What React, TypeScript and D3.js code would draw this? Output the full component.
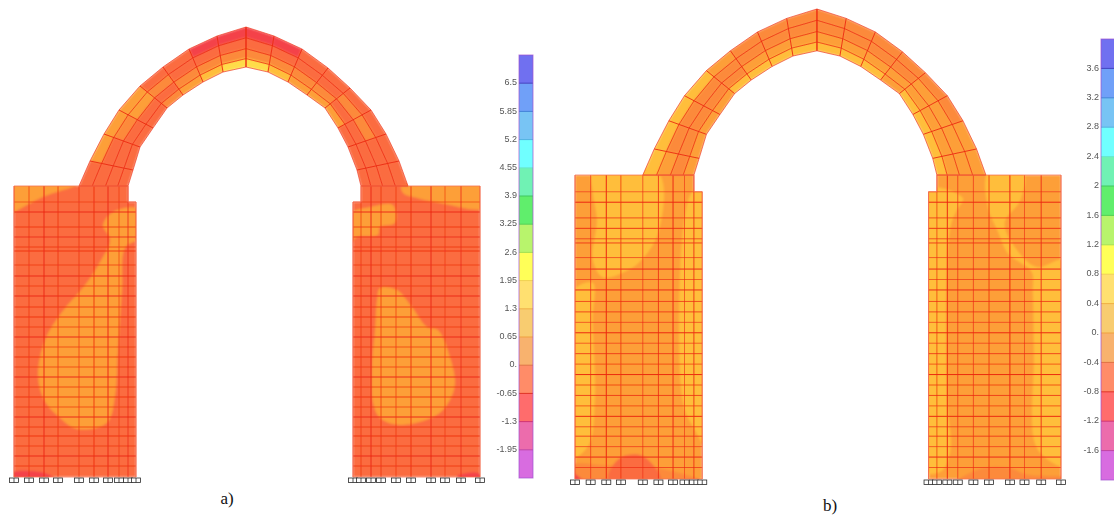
import React from "react";
import * as d3 from "d3";

type P = [number, number];

// Model geometry (drawing units of the structure)
const outerLeft: P[] = [[246, 27], [217, 36], [189, 49], [163, 67], [140, 86], [119, 110], [104, 134], [90, 161], [79, 186]];
const innerLeft: P[] = [[246, 67], [223, 72], [203, 82], [183, 95], [167, 108], [153, 128], [140, 147], [133, 170], [128, 186]];
const outerRight: P[] = [[246, 27], [274, 36], [302, 49], [328, 68], [350, 88], [371, 110], [386, 134], [399, 161], [408, 186]];
const innerRight: P[] = [[246, 67], [268, 72], [288, 82], [307, 95], [325, 108], [338, 128], [348, 147], [357, 170], [361, 186]];
const ringFractions = [0, 0.27, 0.54, 0.79, 1];

const leftPier: P[] = [[14, 186], [128, 186], [128, 202], [136, 202], [136, 477], [14, 477]];
const rightPier: P[] = [[353, 202], [361, 202], [361, 186], [480, 186], [480, 477], [353, 477]];

const leftColumns = [14, 29, 44, 58, 79, 94, 108, 119, 128, 136];
const rightColumns = [353, 361, 371, 381, 396, 411, 431, 445, 461, 480];
const columnWeights = [0.6, 0.65, 1, 0.7, 0.65, 0.8, 1, 0.6, 0.85, 0.5];
const rows = [202, 212, 227, 237, 247, 251, 265, 276, 286, 296, 307, 317, 327, 337, 347, 357, 367, 377, 387, 397, 407, 417, 427, 436, 446, 456, 466];
const rowWeights = [0.6, 1, 0.75, 0.9, 0.7, 0.8, 0.65, 1, 0.65, 1, 0.75, 0.8, 0.65, 1, 0.65, 0.8, 0.65, 1, 0.7, 0.8, 0.65, 1, 0.7, 0.8, 0.65, 1, 0.7];

// Contour levels, from the highest compression (0) to the lowest (5)
const levelColours = ["#F4434A", "#FB6C40", "#FC8A3A", "#FD9F38", "#FFBE3A", "#FFDC48"];

// Arch cells: segment (crown to springing) x ring (outside to inside)
const archALeft = [[0, 1, 2, 5], [0, 1, 2, 4], [1, 1, 2, 3], [1, 2, 1, 2], [3, 3, 1, 1], [3, 2, 1, 1], [3, 1, 1, 1], [1, 1, 1, 1]];
const archARight = [[0, 1, 2, 5], [0, 1, 2, 4], [1, 1, 2, 3], [1, 1, 2, 3], [1, 2, 1, 3], [1, 2, 1, 1], [1, 1, 1, 1], [1, 1, 1, 1]];
const archBLeft = [[2, 2, 3, 4], [2, 2, 3, 4], [2, 2, 3, 4], [3, 2, 2, 4], [4, 2, 2, 3], [4, 2, 2, 3], [4, 2, 2, 3], [4, 3, 2, 3]];
const archBRight = [[2, 2, 3, 4], [2, 2, 3, 4], [2, 2, 3, 4], [2, 2, 3, 3], [2, 3, 3, 4], [2, 3, 3, 4], [3, 3, 3, 4], [3, 3, 3, 4]];

type Blob = { level: number; pts: P[] };

const contoursA: Blob[] = [
  { level: 3, pts: [[10, 182], [78, 184], [43, 197], [18, 210], [10, 214]] },
  { level: 3, pts: [[113, 212], [138, 209], [138, 238], [125, 248], [122, 290], [118, 350], [115, 397], [107, 423], [77, 429], [60, 418], [44, 400], [38, 375], [45, 340], [62, 312], [85, 285], [100, 262], [110, 240], [103, 225]] },
  { level: 3, pts: [[350, 214], [370, 207], [393, 205], [395, 223], [380, 227], [378, 235], [357, 237], [350, 243]] },
  { level: 3, pts: [[402, 184], [484, 184], [484, 208], [440, 203], [417, 198], [403, 193]] },
  { level: 3, pts: [[380, 288], [397, 290], [412, 307], [427, 327], [438, 330], [450, 357], [455, 383], [450, 400], [437, 415], [400, 425], [380, 418], [373, 403], [372, 363], [375, 330], [377, 300]] },
  { level: 0, pts: [[10, 473], [45, 473], [55, 480], [10, 480]] },
  { level: 0, pts: [[457, 476], [478, 473], [483, 478], [460, 479]] },
];

const baseLevelA = 1;
const baseLevelB = 3;

const contoursB: Blob[] = [
  { level: 4, pts: [[31, 184], [94, 184], [94, 241], [78, 267], [65, 277], [41, 284], [31, 267], [35, 229], [31, 203]] },
  { level: 4, pts: [[10, 299], [31, 289], [31, 325], [33, 402], [27, 445], [10, 457]] },
  { level: 4, pts: [[128, 200], [140, 200], [140, 446], [129, 430], [118, 406], [118, 235]] },
  { level: 4, pts: [[350, 200], [386, 208], [380, 220], [375, 232], [371, 267], [371, 402], [374, 449], [366, 469], [350, 470]] },
  { level: 4, pts: [[410, 184], [444, 184], [441, 210], [426, 232], [438, 258], [457, 274], [484, 268], [484, 464], [468, 459], [455, 443], [454, 357], [453, 299], [452, 279], [441, 270], [429, 261], [419, 239], [410, 217]] },
  { level: 2, pts: [[10, 464], [45, 464], [90, 466], [138, 480], [10, 480]] },
  { level: 1, pts: [[47, 470], [59, 456], [79, 455], [96, 478], [47, 480]] },
  { level: 0, pts: [[10, 470], [22, 478], [30, 480], [10, 480]] },
  { level: 2, pts: [[380, 480], [404, 467], [429, 466], [448, 473], [484, 476], [484, 480]] },
];

// Legends
const legendTicksA = [6.5, 5.85, 5.2, 4.55, 3.9, 3.25, 2.6, 1.95, 1.3, 0.65, 0, -0.65, -1.3, -1.95];
const legendLabelsA = ["6.5", "5.85", "5.2", "4.55", "3.9", "3.25", "2.6", "1.95", "1.3", "0.65", "0.", "-0.65", "-1.3", "-1.95"];
const legendEndsA = [7.15, -2.6];
const legendTicksB = [3.6, 3.2, 2.8, 2.4, 2, 1.6, 1.2, 0.8, 0.4, 0, -0.4, -0.8, -1.2, -1.6];
const legendLabelsB = ["3.6", "3.2", "2.8", "2.4", "2", "1.6", "1.2", "0.8", "0.4", "0.", "-0.4", "-0.8", "-1.2", "-1.6"];
const legendEndsB = [4.0, -2.0];
const legendFills = ["#7070F0", "#70A0F8", "#78C4F4", "#70FFFF", "#70F2B4", "#60EE6C", "#B8F46C", "#FFFF58", "#FFE070", "#F8CC70", "#F8B26E", "#FF8C68", "#FF6C6C", "#EC6CAC", "#D86CE0"];
const legendRules = ["#4040C0", "#3F80D8", "#50B0E0", "#60E8D0", "#40C860", "#50D050", "#A0E050", "#F0D050", "#F0B040", "#F0A040", "#E07040", "#E03020", "#D03070", "#C040A0"];

const smooth = d3.line<P>().curve(d3.curveCatmullRomClosed.alpha(0.5));
const poly = (pts: string[]) => pts.join(" ");

type PanelProps = {
  id: string;
  x: d3.ScaleLinear<number, number>;
  y: d3.ScaleLinear<number, number>;
  base: number;
  contours: Blob[];
  archL: number[][];
  archR: number[][];
};

function Panel({ id, x, y, base, contours, archL, archR }: PanelProps) {
  const px = (p: P) => `${x(p[0])},${y(p[1])}`;
  const ring = (o: P, i: P, f: number): P => [o[0] + (i[0] - o[0]) * f, o[1] + (i[1] - o[1]) * f];
  const halves = [
    { outer: outerLeft, inner: innerLeft, levels: archL },
    { outer: outerRight, inner: innerRight, levels: archR },
  ];
  const strong = "#EC2A10";
  const columns = [...leftColumns.map((c, i) => ({ c, w: columnWeights[i], left: true })), ...rightColumns.map((c, i) => ({ c, w: columnWeights[i], left: false }))];
  const columnTop = (c: number, left: boolean) => (left ? (c > 128 ? 202 : 186) : c < 361 ? 202 : 186);
  return (
    <g>
      <clipPath id={`${id}-clip`}>
        <polygon points={poly(leftPier.map(px))} />
        <polygon points={poly(rightPier.map(px))} />
        {halves.map((h, k) => (
          <polygon key={k} points={poly([...h.outer, ...[...h.inner].reverse()].map(px))} />
        ))}
      </clipPath>
      <g clipPath={`url(#${id}-clip)`}>
        <g filter="url(#soft)">
          <polygon points={poly(leftPier.map(px))} fill={levelColours[base]} />
          <polygon points={poly(rightPier.map(px))} fill={levelColours[base]} />
          {contours.map((b, i) => (
            <path key={i} d={smooth(b.pts.map((p) => [x(p[0]), y(p[1])] as P)) ?? ""} fill={levelColours[b.level]} />
          ))}
          {halves.map((h, k) =>
            h.levels.map((seg, s) =>
              seg.map((lev, r) => (
                <polygon
                  key={`${k}-${s}-${r}`}
                  fill={levelColours[lev]}
                  points={poly(
                    [
                      ring(h.outer[s], h.inner[s], ringFractions[r]),
                      ring(h.outer[s + 1], h.inner[s + 1], ringFractions[r]),
                      ring(h.outer[s + 1], h.inner[s + 1], ringFractions[r + 1]),
                      ring(h.outer[s], h.inner[s], ringFractions[r + 1]),
                    ].map(px),
                  )}
                  stroke={levelColours[lev]}
                  strokeWidth={0.5}
                />
              )),
            ),
          )}
        </g>
      </g>
      <g filter="url(#lines)" fill="none">
        {rows.map((r, i) => (
          <g key={i}>
            <line x1={x(14)} x2={x(128)} y1={y(r)} y2={y(r)} stroke={strong} strokeOpacity={rowWeights[i]} />
            <line x1={x(128)} x2={x(136)} y1={y(r)} y2={y(r)} stroke={strong} strokeOpacity={rowWeights[i]} />
            <line x1={x(353)} x2={x(480)} y1={y(r)} y2={y(r)} stroke={strong} strokeOpacity={rowWeights[i]} />
          </g>
        ))}
        {columns.map(({ c, w, left }, i) => (
          <line key={i} x1={x(c)} x2={x(c)} y1={y(columnTop(c, left))} y2={y(477)} stroke={strong} strokeOpacity={w} />
        ))}
        {halves.map((h, k) => (
          <g key={k}>
            {h.outer.map((o, s) => (
              <line key={s} x1={x(o[0])} y1={y(o[1])} x2={x(h.inner[s][0])} y2={y(h.inner[s][1])} stroke={strong} strokeOpacity={0.9} />
            ))}
            {ringFractions.map((f, r) => (
              <polyline
                key={r}
                points={poly(h.outer.map((o, s) => px(ring(o, h.inner[s], f))))}
                stroke={strong}
                strokeOpacity={r === 0 || r === 4 ? 0.65 : 0.75}
              />
            ))}
          </g>
        ))}
        <polygon points={poly(leftPier.map(px))} stroke="#F5714F" strokeOpacity={0.8} />
        <polygon points={poly(rightPier.map(px))} stroke="#F5714F" strokeOpacity={0.8} />
      </g>
      <g fill="#fff" stroke="#2A2A2A" strokeWidth={0.8}>
        {columns.map(({ c }, i) => (
          <g key={i}>
            <rect x={x(c) - 4.5} y={y(477) + 1} width={9} height={4.5} />
            <line x1={x(c)} x2={x(c)} y1={y(477) + 1} y2={y(477) + 5.5} />
          </g>
        ))}
      </g>
    </g>
  );
}

type LegendProps = { ticks: number[]; labels: string[]; ends: number[]; yRange: number[]; left: number; width: number };

function Legend({ ticks, labels, ends, yRange, left, width }: LegendProps) {
  const v = d3.scaleLinear().domain(ends).range(yRange);
  const edges = [ends[0], ...ticks, ends[1]];
  return (
    <g filter="url(#lines)">
      {legendFills.map((f, i) => (
        <rect key={i} x={left} width={width} y={v(edges[i])} height={v(edges[i + 1]) - v(edges[i])} fill={f} />
      ))}
      {ticks.map((t, i) => (
        <line key={i} x1={left} x2={left + width} y1={v(t)} y2={v(t)} stroke={legendRules[i]} />
      ))}
      <rect x={left} y={yRange[0]} width={width} height={yRange[1] - yRange[0]} fill="none" stroke="#A050D0" strokeOpacity={0.7} />
      {ticks.map((t, i) => (
        <text key={i} x={left - 2} y={v(t) - 1} dy="0.35em" textAnchor="end" fontFamily="'Liberation Sans', Arial, sans-serif" fontSize={9} fill="#555">
          {labels[i]}
        </text>
      ))}
    </g>
  );
}

export default function App() {
  const xA = d3.scaleLinear().domain([14, 480]).range([14, 480]);
  const yA = d3.scaleLinear().domain([27, 477]).range([27, 477]);
  const xB = d3.scaleLinear().domain([14, 480]).range([575, 1061]);
  const yB = d3.scaleLinear().domain([27, 477]).range([9, 479]);
  return (
    <svg width={1114} height={516} viewBox="0 0 1114 516" style={{ position: "absolute", left: 0, top: 0, display: "block", background: "#fff" }}>
      <defs>
        <filter id="soft" filterUnits="userSpaceOnUse" x={0} y={0} width={1114} height={516}>
          <feGaussianBlur stdDeviation={0.8} />
        </filter>
        <filter id="lines" filterUnits="userSpaceOnUse" x={0} y={0} width={1114} height={516}>
          <feGaussianBlur stdDeviation={0.35} />
        </filter>
      </defs>
      <Panel id="a" x={xA} y={yA} base={baseLevelA} contours={contoursA} archL={archALeft} archR={archARight} />
      <Panel id="b" x={xB} y={yB} base={baseLevelB} contours={contoursB} archL={archBLeft} archR={archBRight} />
      <Legend ticks={legendTicksA} labels={legendLabelsA} ends={legendEndsA} yRange={[55, 478]} left={519} width={14} />
      <Legend ticks={legendTicksB} labels={legendLabelsB} ends={legendEndsB} yRange={[39, 480]} left={1101} width={14} />
      <text x={227} y={504} textAnchor="middle" fontFamily="'Liberation Serif', 'Times New Roman', serif" fontSize={17} fill="#111">a)</text>
      <text x={830} y={511} textAnchor="middle" fontFamily="'Liberation Serif', 'Times New Roman', serif" fontSize={17} fill="#111">b)</text>
    </svg>
  );
}
